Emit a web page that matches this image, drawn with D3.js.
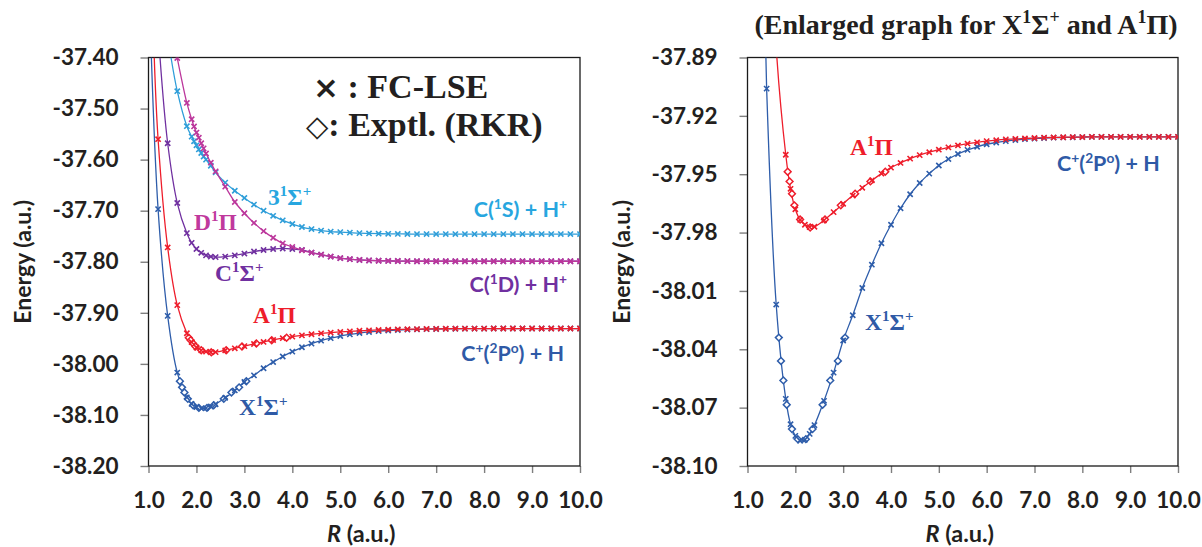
<!DOCTYPE html>
<html><head><meta charset="utf-8">
<script src="https://cdn.jsdelivr.net/npm/d3@7"></script>
<style>body{margin:0;background:#fff}svg{display:block}text{white-space:pre}</style>
</head><body>
<svg id="chart" width="1202" height="547"></svg>
<script>
// ---------------- data ----------------
const tailR = [4.2,4.4,4.6,4.8,5.0,5.2,5.4,5.6,5.8,6.0,6.2,6.4,6.6,6.8,7.0,7.2,7.4,7.6,7.8,8.0,8.2,8.4,8.6,8.8,9.0,9.2,9.4,9.6,9.8,10.0];

const X_headR = [1.2,1.4,1.6,1.8,1.9,2.0,2.1,2.2,2.3,2.4,2.6,2.8,3.0,3.2,3.4,3.6,3.8,4.0];
const X_headE = [-37.697,-37.906,-38.017,-38.0655,-38.0785,-38.0845,-38.087,-38.0865,-38.0835,-38.079,-38.0665,-38.052,-38.0355,-38.0225,-38.0085,-37.9965,-37.9855,-37.976];
const X_tailE = [-37.9675,-37.9603,-37.9545,-37.9497,-37.9455,-37.9422,-37.9396,-37.9375,-37.9359,-37.9346,-37.9337,-37.9330,-37.9324,-37.9320,-37.9317,-37.9314,-37.9312,-37.9311,-37.9310,-37.9309,-37.9308,-37.9308,-37.9308,-37.9308,-37.9308,-37.9308,-37.9308,-37.9308,-37.9308,-37.9308];

const A_headR = [1.2,1.4,1.6,1.8,1.9,2.0,2.1,2.2,2.3,2.4,2.6,2.8,3.0,3.2,3.4,3.6,3.8,4.0];
const A_headE = [-37.560,-37.772,-37.885,-37.940,-37.9575,-37.968,-37.9735,-37.976,-37.9772,-37.977,-37.9737,-37.9695,-37.9652,-37.961,-37.957,-37.9532,-37.9497,-37.9466];
const A_tailE = [-37.9442,-37.9420,-37.9402,-37.9387,-37.9374,-37.9362,-37.9352,-37.9343,-37.9336,-37.9330,-37.9325,-37.9321,-37.9318,-37.9316,-37.9314,-37.9312,-37.9311,-37.9310,-37.9309,-37.9309,-37.9308,-37.9308,-37.9308,-37.9308,-37.9308,-37.9308,-37.9308,-37.9308,-37.9308,-37.9308];

const C_headR = [1.4,1.6,1.8,1.9,2.0,2.1,2.2,2.3,2.4,2.6,2.8,3.0,3.2,3.4,3.6,3.8,4.0];
const C_headE = [-37.568,-37.685,-37.744,-37.763,-37.775,-37.7825,-37.7875,-37.790,-37.791,-37.790,-37.7875,-37.784,-37.780,-37.777,-37.775,-37.774,-37.775];
const C_tailE = [-37.777,-37.782,-37.786,-37.790,-37.793,-37.795,-37.7965,-37.7975,-37.798,-37.7984,-37.7986,-37.7988,-37.799,-37.799,-37.799,-37.799,-37.799,-37.799,-37.799,-37.799,-37.799,-37.799,-37.799,-37.799,-37.799,-37.799,-37.799,-37.799,-37.799,-37.799];

const D_headR = [1.6,1.8,1.9,1.95,2.0,2.05,2.1,2.15,2.2,2.3,2.4,2.6,2.8,3.0,3.2,3.4,3.6,3.8,4.0];
const D_headE = [-37.401,-37.489,-37.521,-37.535,-37.547,-37.557,-37.568,-37.578,-37.588,-37.606,-37.623,-37.653,-37.683,-37.705,-37.724,-37.740,-37.753,-37.764,-37.771];
const D_tailE = [-37.7775,-37.7822,-37.7862,-37.7898,-37.7928,-37.7948,-37.7963,-37.7973,-37.798,-37.7984,-37.7986,-37.7988,-37.799,-37.799,-37.799,-37.799,-37.799,-37.799,-37.799,-37.799,-37.799,-37.799,-37.799,-37.799,-37.799,-37.799,-37.799,-37.799,-37.799,-37.799];

const S_headR = [1.6,1.8,1.9,1.95,2.0,2.05,2.1,2.15,2.2,2.3,2.4,2.6,2.8,3.0,3.2,3.4,3.6,3.8,4.0];
const S_headE = [-37.466,-37.5345,-37.555,-37.564,-37.572,-37.580,-37.587,-37.594,-37.600,-37.612,-37.625,-37.645,-37.661,-37.675,-37.688,-37.700,-37.710,-37.719,-37.726];
const S_tailE = [-37.732,-37.736,-37.739,-37.741,-37.742,-37.743,-37.744,-37.7445,-37.745,-37.7453,-37.7455,-37.7457,-37.7458,-37.7458,-37.7458,-37.7458,-37.7458,-37.7458,-37.7458,-37.7458,-37.7458,-37.7458,-37.7458,-37.7458,-37.7458,-37.7458,-37.7458,-37.7458,-37.7458,-37.7458];

// where each curve leaves the top of the left panel (E = -37.40)
const stateNames = ["X", "A", "C", "D", "S3"];
const edgeR      = [1.06, 1.12, 1.24, null, 1.47];

// experimental RKR turning points
const X_rkrR = [1.655,1.70,1.75,1.82,1.93,2.05,2.22,2.36,2.57,2.73,2.89,3.04];
const X_rkrE = [-38.034,-38.046,-38.056,-38.0685,-38.081,-38.0862,-38.0862,-38.081,-38.0685,-38.056,-38.046,-38.034];
const A_rkrR = [1.84,1.88,1.93,1.98,2.10,2.31,2.62,2.95,3.25,3.57,3.88];
const A_rkrE = [-37.9487,-37.9537,-37.960,-37.966,-37.9733,-37.9774,-37.9733,-37.966,-37.960,-37.9537,-37.9487];

const xTicks = [1,2,3,4,5,6,7,8,9,10];
const yTicksLeft = [-37.40,-37.50,-37.60,-37.70,-37.80,-37.90,-38.00,-38.10,-38.20];
const yTicksRight = [-37.89,-37.92,-37.95,-37.98,-38.01,-38.04,-38.07,-38.10];

// ---------------- build ----------------
const colors = {X:"#2E5DAA", A:"#EE1D2B", C:"#7030A0", D:"#BC379C", S3:"#2F9ED9"};
const labelColors = {X:"#2F5AA6", A:"#EE1D2B", C:"#7030A0", D:"#C0399D", S3:"#27A6DF"};

function zip(R, E) { return R.map((r, i) => ({r, e: E[i]})); }
const fc = {
  X: zip(X_headR.concat(tailR), X_headE.concat(X_tailE)),
  A: zip(A_headR.concat(tailR), A_headE.concat(A_tailE)),
  C: zip(C_headR.concat(tailR), C_headE.concat(C_tailE)),
  D: zip(D_headR.concat(tailR), D_headE.concat(D_tailE)),
  S3: zip(S_headR.concat(tailR), S_headE.concat(S_tailE))
};
const rkr = { X: zip(X_rkrR, X_rkrE), A: zip(A_rkrR, A_rkrE) };
const lineData = {};
stateNames.forEach((s, i) => {
  lineData[s] = (edgeR[i] != null ? [{r: edgeR[i], e: -37.40}] : []).concat(fc[s]);
});

const svg = d3.select("#chart");
const tickFont = "Lato, 'Open Sans', sans-serif";
const serif = "'Liberation Serif', 'Times New Roman', serif";

function richText(sel, x, y, parts, fs, family, color, anchor) {
  const t = sel.append("text").attr("x", x).attr("y", y)
    .attr("font-size", fs).attr("font-family", family).attr("font-weight", "bold")
    .attr("fill", color).attr("text-anchor", anchor || "start");
  let shift = 0;
  parts.forEach(p => {
    const sup = Array.isArray(p);
    const s = sup ? p[0] : p;
    const target = sup ? -0.38 * fs : 0;
    t.append("tspan").attr("dy", target - shift).attr("font-size", sup ? fs * 0.64 : fs).text(s);
    shift = target;
  });
  return t;
}

function panel(opts) {
  const {left, right, top, bottom, yDomain, yTicks, states, id} = opts;
  const x = d3.scaleLinear().domain([1, 10]).range([left, right]);
  const y = d3.scaleLinear().domain(yDomain).range([bottom, top]);
  const g = svg.append("g");

  g.append("clipPath").attr("id", id).append("rect")
    .attr("x", left).attr("y", top).attr("width", right - left).attr("height", bottom - top);

  const ya = g.append("g").attr("transform", `translate(${left},0)`)
    .call(d3.axisLeft(y).tickValues(yTicks).tickSize(8).tickSizeOuter(0).tickPadding(22).tickFormat(d => d.toFixed(2)));
  const xa = g.append("g").attr("transform", `translate(0,${bottom})`)
    .call(d3.axisBottom(x).tickValues(xTicks).tickSize(7).tickSizeOuter(0).tickPadding(19).tickFormat(d => d.toFixed(1)));
  [ya, xa].forEach(a => {
    a.select(".domain").remove();
    a.selectAll(".tick line").attr("stroke", "#7f7f7f").attr("stroke-width", 1.4);
    a.selectAll(".tick text").attr("font-family", tickFont).attr("font-weight", "bold")
      .attr("font-size", 22.5).attr("fill", "#231f20");
  });

  g.append("rect").attr("x", left).attr("y", top).attr("width", right - left).attr("height", bottom - top)
    .attr("fill", "none").attr("stroke", "#1a1a1a").attr("stroke-width", 1.3);

  const plot = g.append("g").attr("clip-path", `url(#${id})`);
  const line = d3.line().x(d => x(d.r)).y(d => y(d.e)).curve(d3.curveCatmullRom.alpha(0.5));
  const [ylo, yhi] = yDomain;
  const inside = d => d.e >= ylo - 0.0005 && d.e <= yhi + 0.0005;

  states.forEach(s => {
    plot.append("path").datum(lineData[s]).attr("d", line)
      .attr("fill", "none").attr("stroke", colors[s]).attr("stroke-width", 1.3);
    if (rkr[s]) {
      plot.selectAll(null).data(rkr[s].filter(inside)).enter().append("path")
        .attr("transform", d => `translate(${x(d.r)},${y(d.e)})`)
        .attr("d", "M0,-3.4L3.4,0L0,3.4L-3.4,0Z")
        .attr("fill", "#fff").attr("stroke", colors[s]).attr("stroke-width", 1.5);
    }
    plot.selectAll(null).data(fc[s].filter(inside)).enter().append("path")
      .attr("transform", d => `translate(${x(d.r)},${y(d.e)})`)
      .attr("d", "M-2.6,-2.6L2.6,2.6M-2.6,2.6L2.6,-2.6")
      .attr("fill", "none").attr("stroke", colors[s]).attr("stroke-width", 1.6);
  });

  g.append("text").attr("transform", `translate(${left - 118},${(top + bottom) / 2}) rotate(-90)`)
    .attr("text-anchor", "middle").attr("font-family", tickFont).attr("font-weight", "bold")
    .attr("font-size", 23).attr("fill", "#231f20").text("Energy (a.u.)");
  const xt = g.append("text").attr("x", (left + right) / 2 - 3).attr("y", 542)
    .attr("text-anchor", "middle").attr("font-family", tickFont).attr("font-weight", "bold")
    .attr("font-size", 23.5).attr("fill", "#231f20");
  xt.append("tspan").attr("font-style", "italic").text("R");
  xt.append("tspan").text(" (a.u.)");
  return {g, x, y};
}

const L = panel({left: 148.5, right: 580, top: 57.5, bottom: 466, yDomain: [-38.20, -37.40],
  yTicks: yTicksLeft, states: ["S3", "C", "D", "X", "A"], id: "clipL"});
const Rp = panel({left: 747.5, right: 1178, top: 57.5, bottom: 466, yDomain: [-38.10, -37.89],
  yTicks: yTicksRight, states: ["X", "A"], id: "clipR"});

// Left annotations
const sans = tickFont;
const leg1 = L.g.append("text").attr("x", 313).attr("y", 98).attr("font-weight", "bold").attr("fill", "#231f20");
leg1.append("tspan").attr("font-family", "'DejaVu Sans', sans-serif").attr("font-size", 31).text("×");
leg1.append("tspan").attr("font-family", serif).attr("font-size", 34).text(" : FC-LSE");
const leg2 = L.g.append("text").attr("x", 306).attr("y", 136).attr("font-weight", "bold").attr("fill", "#231f20");
leg2.append("tspan").attr("font-family", "'DejaVu Sans', sans-serif").attr("font-weight", "normal").attr("font-size", 29).text("◇");
leg2.append("tspan").attr("font-family", serif).attr("font-size", 34).text(": Exptl. (RKR)");

richText(L.g, 268, 205, ["3", ["1"], "Σ", ["+"]], 23.5, serif, labelColors.S3);
richText(L.g, 194, 230, ["D", ["1"], "Π"], 23.5, serif, labelColors.D);
richText(L.g, 215, 281, ["C", ["1"], "Σ", ["+"]], 23.5, serif, labelColors.C);
richText(L.g, 253, 323, ["A", ["1"], "Π"], 23.5, serif, labelColors.A);
richText(L.g, 239, 415, ["X", ["1"], "Σ", ["+"]], 23.5, serif, labelColors.X);
richText(L.g, 567, 217, ["C(", ["1"], "S) + H", ["+"]], 21.5, sans, labelColors.S3, "end");
richText(L.g, 567, 292, ["C(", ["1"], "D) + H", ["+"]], 21.5, sans, labelColors.C, "end");
richText(L.g, 564, 361, ["C", ["+"], "(", ["2"], "P", ["o"], ") + H"], 21.5, sans, labelColors.X, "end");

// Right annotations
richText(Rp.g, 966, 34, ["(Enlarged graph for X", ["1"], "Σ", ["+"], " and A", ["1"], "Π)"], 28, serif, "#231f20", "middle");
richText(Rp.g, 850, 155, ["A", ["1"], "Π"], 23.5, serif, labelColors.A);
richText(Rp.g, 1057, 171, ["C", ["+"], "(", ["2"], "P", ["o"], ") + H"], 21.5, sans, labelColors.X);
richText(Rp.g, 865, 330, ["X", ["1"], "Σ", ["+"]], 23.5, serif, labelColors.X);
</script>
</body></html>
